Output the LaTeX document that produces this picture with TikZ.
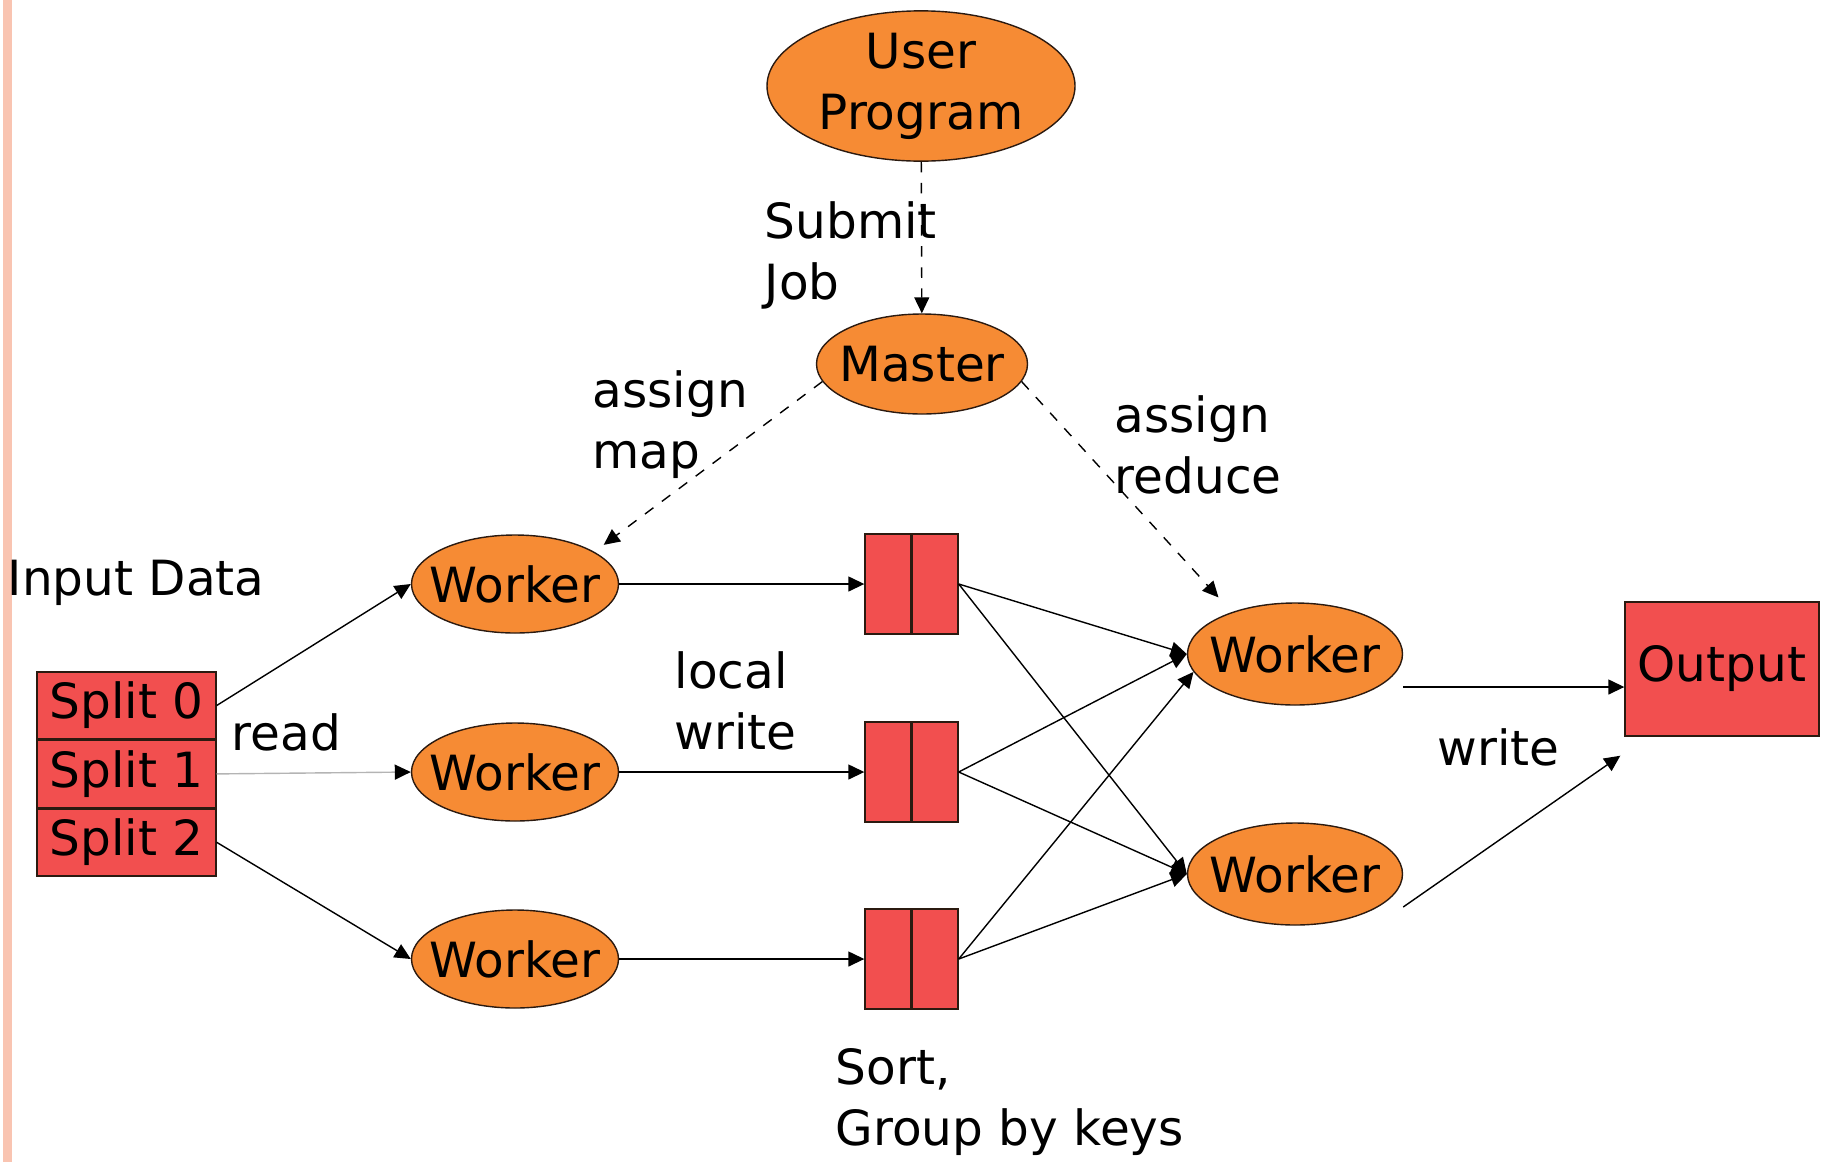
\documentclass[tikz,border=0pt]{standalone}
\usepackage{fontspec}
\setmainfont{DejaVu Sans}
\usetikzlibrary{arrows.meta,positioning,shapes.geometric}
\definecolor{jobfill}{HTML}{F68B34}
\definecolor{splitfill}{HTML}{F24F4F}
\definecolor{marginbar}{HTML}{F9C4B1}
\definecolor{readgray}{HTML}{B4B4B4}
\definecolor{edgedark}{HTML}{2B1A10}
\tikzset{
  worker/.style={draw=edgedark, ellipse, fill=jobfill, align=center, inner xsep=-2.5mm, inner ysep=0pt, minimum width=20.7mm, minimum height=9.8mm},
  splitbox/.style={draw=edgedark, fill=splitfill, inner sep=0pt, minimum width=17.9mm, minimum height=6.7mm},
  buffer/.style={draw=edgedark, fill=splitfill, inner sep=0pt, minimum width=9.3mm, minimum height=10mm,
    path picture={\draw[edgedark, line width=1.1pt] (path picture bounding box.north) -- (path picture bounding box.south);}},
  outbox/.style={draw=edgedark, fill=splitfill, inner sep=0pt, minimum width=19.4mm, minimum height=13.4mm},
  tag/.style={inner sep=0pt, align=left, anchor=north west},
  word/.style={inner sep=0pt, anchor=base west},
  arrow/.style={-{Triangle[length=1.6mm, width=1.5mm]}, thin},
  dashedarrow/.style={-{Triangle[length=1.6mm, width=1.5mm]}, thin, dashed}
}

\begin{document}
\begin{tikzpicture}[font=\fontsize{13.8}{17.3}\selectfont]
  \useasboundingbox (0,0) rectangle (18.22,11.62);
  \fill[marginbar] (0.03,0) rectangle (0.12,11.62);

  \node[worker, inner xsep=0pt, minimum width=30.8mm, minimum height=14.8mm] (user) at (9.21,10.76) {User\\Program};
  \node[worker, minimum width=21.1mm, minimum height=10mm] (master) at (9.22,7.98) {Master};

  \node[splitbox] (split0) at (1.265,4.565) {Split 0};
  \node[splitbox, below=0pt of split0] (split1) {Split 1};
  \node[splitbox, below=0pt of split1] (split2) {Split 2};

  \foreach \i/\y in {1/5.78,2/3.90,3/2.03} {
    \node[worker] (map\i) at (5.15,\y) {Worker};
    \node[buffer] (buf\i) at (9.115,\y) {};
    \draw[arrow] (map\i) -- (buf\i);
  }

  \node[worker, minimum width=21.5mm, minimum height=10.2mm] (red1) at (12.95,5.08) {Worker};
  \node[worker, minimum width=21.5mm, minimum height=10.2mm] (red2) at (12.95,2.88) {Worker};
  \node[outbox] (output) at (17.22,4.93) {Output};

  \node[tag] (submit) at (7.64,9.61) {Submit\\Job};
  \node[tag] (assignmap) at (5.92,7.92) {assign\\map};
  \node[tag] (assignred) at (11.14,7.67) {assign\\reduce};
  \node[tag] (localwrite) at (6.74,5.11) {local\\write};
  \node[tag] (sortgroup) at (8.35,1.14) {Sort,\\Group by keys};
  \node[word] (input) at (0.07,5.67) {Input Data};
  \node[word] (readlbl) at (2.31,4.12) {read};
  \node[word] (writelbl) at (14.37,3.97) {write};

  \draw[dashedarrow] (user) -- (master);
  \draw[dashedarrow] (master.190) -- ([shift={(1.5mm,0.4mm)}]map1.north east);
  \draw[dashedarrow] (master.-10) -- ([yshift=2mm]red1.north west);

  \draw[arrow] (split0.east) -- (map1.west);
  \draw[-{Triangle[length=1.6mm, width=1.5mm, black]}, thin, readgray] (split1.east) -- (map2.west);
  \draw[arrow] (split2.east) -- (map3.west);

  \draw[arrow] (buf1.east) -- (red1.west);
  \draw[arrow] (buf2.east) -- (red1.west);
  \draw[arrow] (buf3.east) -- (red1.190);
  \foreach \b in {1,2,3} {
    \draw[arrow] (buf\b.east) -- (red2.west);
  }

  \draw[arrow] ([yshift=-3.3mm]red1.east) -- ([yshift=-3.3mm]red1.east -| output.west);
  \draw[arrow] ([yshift=-3.3mm]red2.east) -- ([shift={(-0.4mm,-1.9mm)}]output.south west);
\end{tikzpicture}
\end{document}
